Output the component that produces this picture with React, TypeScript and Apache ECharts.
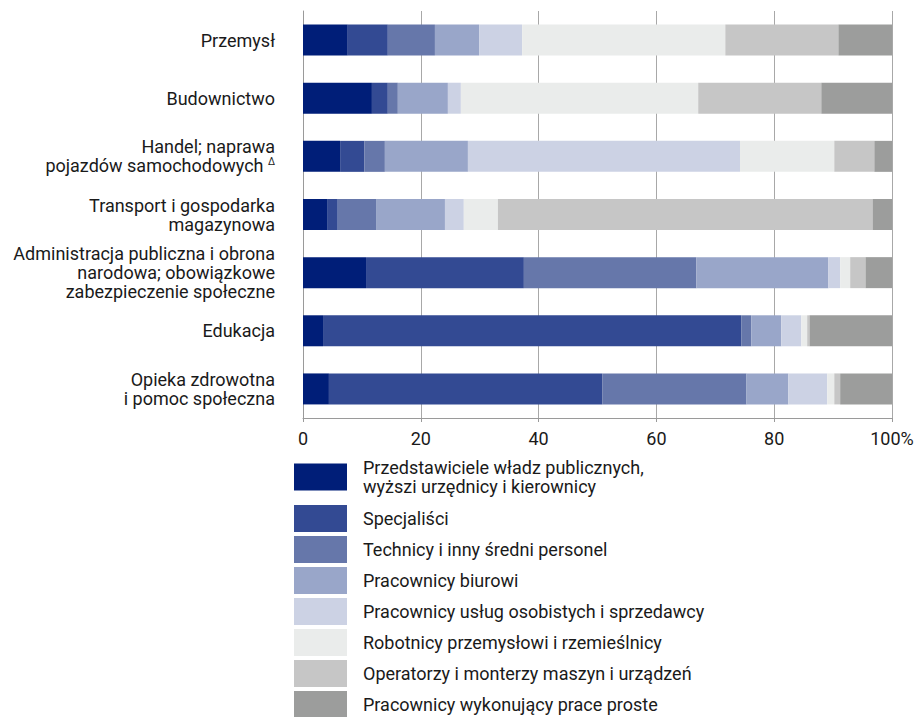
import React, { useEffect, useRef } from "react";
import * as echarts from "echarts";

const categories = [
  "Przemysł",
  "Budownictwo",
  "Handel; naprawa\npojazdów samochodowych {sup|Δ}",
  "Transport i gospodarka\nmagazynowa",
  "Administracja publiczna i obrona\nnarodowa; obowiązkowe\nzabezpieczenie społeczne",
  "Edukacja",
  "Opieka zdrowotna\ni pomoc społeczna",
];

const seriesNames = [
  "Przedstawiciele władz publicznych,\nwyższi urzędnicy i kierownicy",
  "Specjaliści",
  "Technicy i inny średni personel",
  "Pracownicy biurowi",
  "Pracownicy usług osobistych i sprzedawcy",
  "Robotnicy przemysłowi i rzemieślnicy",
  "Operatorzy i monterzy maszyn i urządzeń",
  "Pracownicy wykonujący prace proste",
];

const przedstawiciele = [7.6, 11.7, 6.3, 4.2, 10.7, 3.4, 4.4];
const specjalisci = [6.8, 2.7, 4.1, 1.7, 26.8, 71.0, 46.4];
const technicy = [8.0, 1.7, 3.5, 6.5, 29.3, 1.7, 24.5];
const biurowi = [7.5, 8.5, 14.1, 11.7, 22.4, 5.1, 7.1];
const uslugi = [7.3, 2.2, 46.2, 3.2, 2.0, 3.4, 6.6];
const robotnicy = [34.5, 40.3, 16.0, 5.8, 1.7, 1.0, 1.2];
const operatorzy = [19.2, 20.9, 6.8, 63.6, 2.6, 0.4, 1.0];
const proste = [9.1, 12.0, 3.0, 3.3, 4.5, 14.0, 8.8];

const seriesValues = [przedstawiciele, specjalisci, technicy, biurowi, uslugi, robotnicy, operatorzy, proste];

const colors = ["#001e78", "#334a93", "#6677aa", "#99a6c9", "#ccd2e4", "#eaeceb", "#c6c6c6", "#9c9d9c"];

const xTicks = [0, 20, 40, 60, 80, 100];

const FONT = "Roboto";
const TEXT = "#1a1a1a";

export default function App() {
  const ref = useRef<HTMLDivElement>(null);
  useEffect(() => {
    if (!ref.current) return;
    const chart = echarts.init(ref.current, null, { renderer: "svg" });
    chart.setOption({
      animation: false,
      textStyle: { fontFamily: FONT, color: TEXT },
      grid: {
        left: 303,
        right: 25,
        top: 11,
        bottom: 299,
        outerBoundsMode: "none",
        containLabel: false,
      },
      xAxis: {
        type: "value",
        min: xTicks[0],
        max: xTicks[xTicks.length - 1],
        interval: 20,
        axisLine: { show: true, lineStyle: { color: "#9a9a9a", width: 1 } },
        axisTick: { show: true, length: 4, lineStyle: { color: "#9a9a9a" } },
        splitLine: { show: true, lineStyle: { color: "#a8a8a8", width: 1 } },
        axisLabel: {
          fontFamily: FONT,
          fontSize: 18,
          color: TEXT,
          margin: 11,
          formatter: (v: number) => (v === 100 ? "100%" : String(v)),
        },
      },
      yAxis: {
        type: "category",
        data: categories,
        inverse: true,
        axisLine: { show: true, lineStyle: { color: "#9a9a9a", width: 1 } },
        axisTick: { show: false },
        splitLine: { show: false },
        axisLabel: {
          fontFamily: FONT,
          fontSize: 18,
          lineHeight: 19,
          color: TEXT,
          margin: 28,
          align: "right",
          rich: {
            sup: { fontFamily: FONT, fontSize: 10, color: TEXT, lineHeight: 19, padding: [0, 0, 9, 0] },
          },
        },
      },
      legend: {
        orient: "vertical",
        left: 294,
        top: 453,
        height: 300,
        padding: 0,
        itemWidth: 53,
        itemHeight: 27,
        itemGap: 4,
        icon: "rect",
        selectedMode: false,
        textStyle: {
          fontFamily: FONT,
          fontSize: 18,
          color: TEXT,
          lineHeight: 19,
          padding: [0, 0, 0, 11],
        },
        data: seriesNames.map((n, i) =>
          i === 0 ? { name: n, textStyle: { padding: [10, 0, 0, 11], lineHeight: 19 } } : { name: n }
        ),
      },
      series: seriesNames.map((name, i) => ({
        type: "bar",
        name,
        stack: "total",
        barWidth: 31,
        data: seriesValues[i],
        itemStyle: { color: colors[i] },
        emphasis: { disabled: true },
      })),
    });
    return () => chart.dispose();
  }, []);
  return (
    <div
      ref={ref}
      style={{ position: "fixed", left: 0, top: 0, width: 917, height: 717, background: "#fff" }}
    />
  );
}
